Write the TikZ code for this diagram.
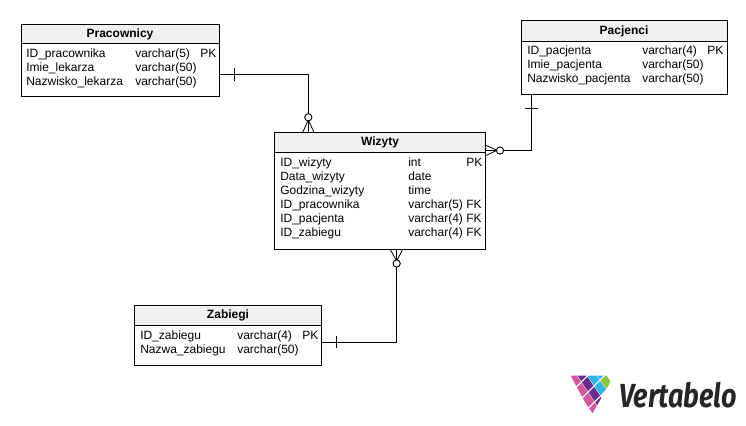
\documentclass[tikz,border=0pt]{standalone}
\usepackage{fontspec}
\usepackage{graphicx}
\setmainfont{Liberation Sans}
\newfontfamily\logofont{Fira Sans}
\definecolor{headfill}{HTML}{F0F0F0}
\definecolor{vpink}{HTML}{D6559B}
\definecolor{vpurple}{HTML}{6A2C91}
\definecolor{vblue}{HTML}{2CB5E8}
\definecolor{vgreen}{HTML}{8CC63F}
\tikzset{
 x=0.75pt,y=-0.75pt,
 tablebox/.style={draw=black,line width=0.75pt,fill=white},
 tablehead/.style={draw=black,line width=0.75pt,fill=headfill},
 title/.style={font=\fontsize{9}{11}\selectfont\bfseries,anchor=center,inner sep=0},
 cell/.style={font=\fontsize{9}{10}\selectfont,anchor=base west,inner sep=0},
 link/.style={draw=black,line width=0.75pt},
 crow/.style={draw=black,line width=0.6pt},
 optcircle/.style={circle,draw=black,line width=0.7pt,fill=white,minimum size=5.4pt,inner sep=0},
}
\begin{document}
\begin{tikzpicture}
\useasboundingbox (0,0) rectangle (746,425);
% Pracownicy
\draw[tablebox] (21,24) rectangle (219,96);
\draw[tablehead] (21,24) rectangle (219,43);
\coordinate (pracR) at (219,74.3);
\node[title] (prac) at (120,34) {Pracownicy};
\node[cell] (p1a) at (26,57) {ID\_pracownika};
\node[cell] (p1b) at (135,57) {varchar(5)};
\node[cell] (p1c) at (200,57) {PK};
\node[cell] (p2a) at (26,71) {Imie\_lekarza};
\node[cell] (p2b) at (135,71) {varchar(50)};
\node[cell] (p3a) at (26,85) {Nazwisko\_lekarza};
\node[cell] (p3b) at (135,85) {varchar(50)};
% Pacjenci
\draw[tablebox] (521,20) rectangle (727,94);
\draw[tablehead] (521,20) rectangle (727,41);
\coordinate (pacB) at (531.7,94);
\node[title] (pac) at (624,31) {Pacjenci};
\node[cell] (q1a) at (527,54) {ID\_pacjenta};
\node[cell] (q1b) at (642,54) {varchar(4)};
\node[cell] (q1c) at (707,54) {PK};
\node[cell] (q2a) at (527,68) {Imie\_pacjenta};
\node[cell] (q2b) at (642,68) {varchar(50)};
\node[cell] (q3a) at (527,82) {Nazwisko\_pacjenta};
\node[cell] (q3b) at (642,82) {varchar(50)};
% Wizyty
\draw[tablebox] (274.3,132.3) rectangle (485,249);
\draw[tablehead] (274.3,132.3) rectangle (485,152.3);
\node[title] (wiz) at (380,142.5) {Wizyty};
\node[cell] (w1a) at (280,166) {ID\_wizyty};
\node[cell] (w1b) at (408,166) {int};
\node[cell] (w1c) at (466,166) {PK};
\node[cell] (w2a) at (280,180) {Data\_wizyty};
\node[cell] (w2b) at (408,180) {date};
\node[cell] (w3a) at (280,194) {Godzina\_wizyty};
\node[cell] (w3b) at (408,194) {time};
\node[cell] (w4a) at (280,208) {ID\_pracownika};
\node[cell] (w4b) at (408,208) {varchar(5)};
\node[cell] (w4c) at (466,208) {FK};
\node[cell] (w5a) at (280,222) {ID\_pacjenta};
\node[cell] (w5b) at (408,222) {varchar(4)};
\node[cell] (w5c) at (466,222) {FK};
\node[cell] (w6a) at (280,236) {ID\_zabiegu};
\node[cell] (w6b) at (408,236) {varchar(4)};
\node[cell] (w6c) at (466,236) {FK};
% Zabiegi
\draw[tablebox] (134,305) rectangle (321.7,365);
\draw[tablehead] (134,305) rectangle (321.7,325);
\node[title] (zab) at (228,315.5) {Zabiegi};
\node[cell] (z1a) at (140,339) {ID\_zabiegu};
\node[cell] (z1b) at (237,339) {varchar(4)};
\node[cell] (z1c) at (302,339) {PK};
\node[cell] (z2a) at (140,353) {Nazwa\_zabiegu};
\node[cell] (z2b) at (237,353) {varchar(50)};
% connectors
\coordinate (wizT) at (308.3,132.3);
\coordinate (wizR) at (485,150.3);
\coordinate (wizB) at (396.7,249);
\coordinate (zabR) at (321.7,342.3);
\draw[link] (pracR) -| (wizT);
\draw[link] (pacB) |- (wizR);
\draw[link] (zabR) -| (wizB);
% ticks
\draw[crow] (234.3,68) -- (234.3,80.7);
\draw[crow] (525,108) -- (538,108);
\draw[crow] (336.3,336) -- (336.3,348.3);
% crow's feet
\draw[crow] (308.3,120) -- (302.7,132.3) (308.3,120) -- (314,132.3);
\draw[crow] (497,150.3) -- (485,145) (497,150.3) -- (485,156);
\draw[crow] (396.7,261) -- (390,249) (396.7,261) -- (402.7,249);
\node[optcircle] (c1) at (308.3,117.3) {};
\node[optcircle] (c2) at (500,150.5) {};
\node[optcircle] (c3) at (396.7,263.5) {};
% logo mark
\begin{scope}
\clip (570.7,375.7) -- (614,375.7) -- (591.7,414.7) -- cycle;
\begin{scope}[shift={(575,380)},x={(5pt,-7.5pt)},y={(4.5pt,4.5pt)}]
\foreach \i/\j/\c in {0/0/vpink,1/0/vpink,2/0/vpink,3/0/vpink,0/1/vpurple,1/1/vpurple,2/1/vpurple,3/1/vpurple,0/2/vblue,1/2/vblue,2/2/vblue,1/3/vblue,2/3/vgreen,1/4/vgreen}{
 \fill[\c] (\i-.44,\j-.46) -- (\i+.44,\j-.46) -- (\i+.44,\j+.46) -- (\i-.44,\j+.46) -- cycle;
}
\end{scope}
\end{scope}
% logo text
\node[anchor=base west,inner sep=0,font=\logofont\bfseries\itshape\fontsize{25}{25}\selectfont,text=black!85] (logo) at (619,407.5) {\scalebox{0.81}[1]{Vertabelo}};
\end{tikzpicture}
\end{document}
